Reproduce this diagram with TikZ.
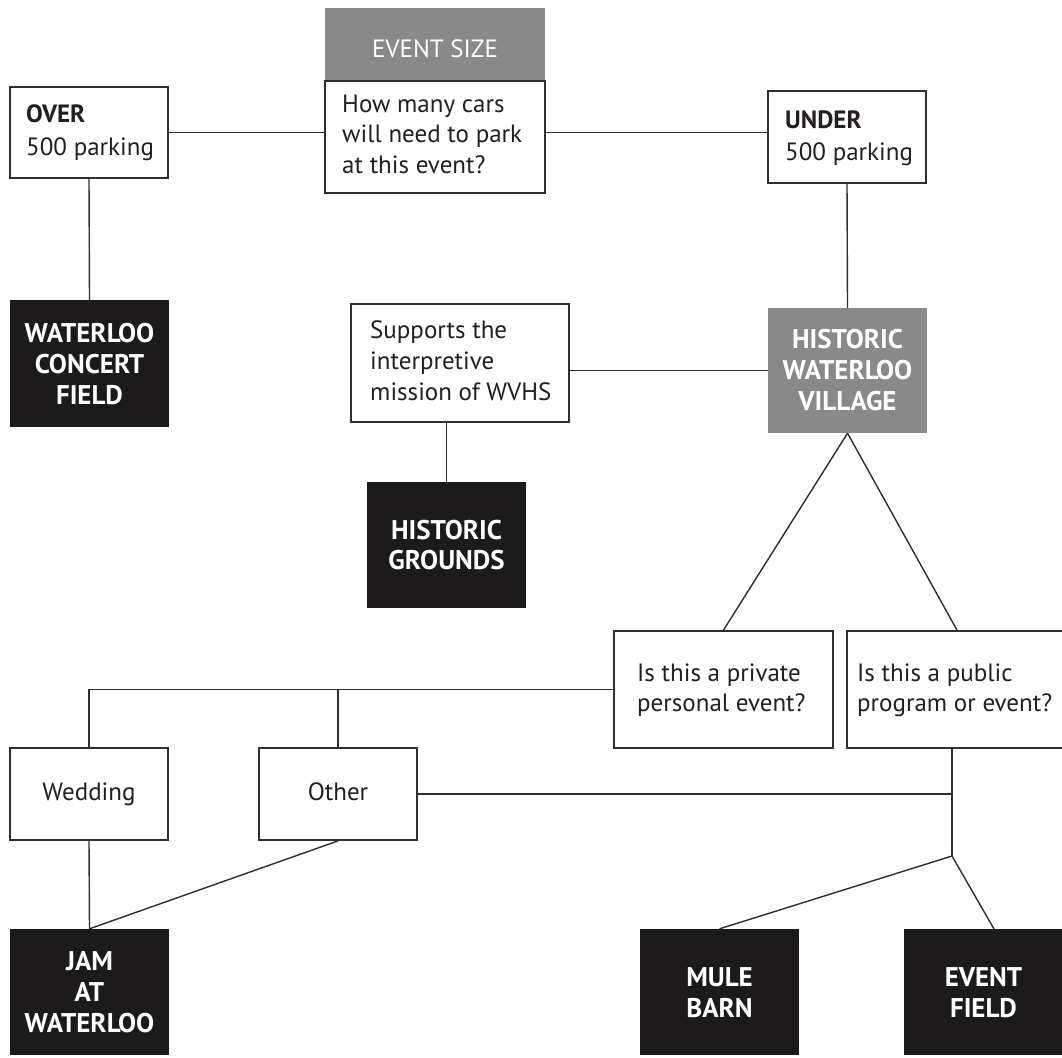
\documentclass[tikz,border=0pt]{standalone}
\usepackage{fontspec}
\setmainfont{PT Sans}
\usetikzlibrary{calc}
\definecolor{gfill}{HTML}{898989}
\definecolor{bfill}{HTML}{1C1A1B}
\definecolor{ln}{HTML}{2E2E2E}
\definecolor{tcol}{HTML}{231F20}
\begin{document}
\begin{tikzpicture}[x=1pt,y=-1pt,
 wbox/.style={draw=ln, line width=1.8pt, fill=white, rectangle, inner sep=0pt},
 bbox/.style={fill=bfill, rectangle, inner sep=0pt},
 gbox/.style={fill=gfill, rectangle, inner sep=0pt},
 conn/.style={draw=ln, line width=1.4pt},
 tx/.style={font=\fontsize{25}{31}\selectfont, inner sep=0pt, text=tcol},
 hx/.style={font=\fontsize{25}{31}\selectfont\bfseries, inner sep=0pt, text=tcol},
 gtx/.style={font=\fontsize{25}{31}\selectfont, inner sep=0pt, text=white},
 btx/.style={font=\fontsize{27}{31}\selectfont\bfseries, inner sep=0pt, text=white}]
\useasboundingbox (0,0) rectangle (1062,1057);
\fill[white] (0,0) rectangle (1062,1057);

% boxes
\node[wbox, minimum width=158, minimum height=91] (over) at (89,132.5) {};
\node[gbox, minimum width=220, minimum height=73] (evh) at (435,44.5) {};
\node[wbox, minimum width=220, minimum height=112] (evq) at (435,137) {};
\node[wbox, minimum width=158, minimum height=92] (under) at (847,137) {};
\node[bbox, minimum width=159, minimum height=127] (wcf) at (89.5,363.5) {};
\node[wbox, minimum width=218, minimum height=118] (sup) at (460,363) {};
\node[gbox, minimum width=159, minimum height=125] (hwv) at (847.5,370.5) {};
\node[bbox, minimum width=159, minimum height=126] (hg) at (446.5,545) {};
\node[wbox, minimum width=219, minimum height=117] (priv) at (723.5,689.5) {};
\node[wbox, minimum width=220, minimum height=117] (pub) at (957,689.5) {};
\node[wbox, minimum width=158, minimum height=92] (wed) at (89,794) {};
\node[wbox, minimum width=158, minimum height=92] (oth) at (338,794) {};
\node[bbox, minimum width=159, minimum height=126] (jam) at (89.5,992) {};
\node[bbox, minimum width=159, minimum height=126] (mule) at (719.5,992) {};
\node[bbox, minimum width=159, minimum height=126] (ef) at (983.5,992) {};

% texts
\node[hx, anchor=base west] (t-over1) at (26,122) {OVER};
\node[tx, anchor=base west] (t-over2) at (26,155) {500 parking};
\node[gtx, anchor=base] (t-evh) at (435,57) {EVENT SIZE};
\node[tx, anchor=base west] (t-ev1) at (342,112) {How many cars};
\node[tx, anchor=base west] (t-ev2) at (342,142) {will need to park};
\node[tx, anchor=base west] (t-ev3) at (342,173) {at this event?};
\node[hx, anchor=base west] (t-un1) at (785,128) {UNDER};
\node[tx, anchor=base west] (t-un2) at (785,160) {500 parking};
\node[btx, anchor=base] (t-wcf1) at (89.5,342) {WATERLOO};
\node[btx, anchor=base] (t-wcf2) at (89.5,373) {CONCERT};
\node[btx, anchor=base] (t-wcf3) at (89.5,404) {FIELD};
\node[tx, anchor=base west] (t-sup1) at (370,338) {Supports the};
\node[tx, anchor=base west] (t-sup2) at (370,369) {interpretive};
\node[tx, anchor=base west] (t-sup3) at (370,400) {mission of WVHS};
\node[btx, anchor=base] (t-hwv1) at (847.5,348) {HISTORIC};
\node[btx, anchor=base] (t-hwv2) at (847.5,379) {WATERLOO};
\node[btx, anchor=base] (t-hwv3) at (847.5,410) {VILLAGE};
\node[btx, anchor=base] (t-hg1) at (446.5,539) {HISTORIC};
\node[btx, anchor=base] (t-hg2) at (446.5,569) {GROUNDS};
\node[tx, anchor=base west] (t-pr1) at (637,681) {Is this a private};
\node[tx, anchor=base west] (t-pr2) at (637,711) {personal event?};
\node[tx, anchor=base west] (t-pu1) at (857,681) {Is this a public};
\node[tx, anchor=base west] (t-pu2) at (857,711) {program or event?};
\node[tx, anchor=base] (t-wed) at (89,800) {Wedding};
\node[tx, anchor=base] (t-oth) at (338,800) {Other};
\node[btx, anchor=base] (t-jam1) at (89.5,970.5) {JAM};
\node[btx, anchor=base] (t-jam2) at (89.5,1001.5) {AT};
\node[btx, anchor=base] (t-jam3) at (89.5,1032) {WATERLOO};
\node[btx, anchor=base] (t-mu1) at (719.5,986) {MULE};
\node[btx, anchor=base] (t-mu2) at (719.5,1017) {BARN};
\node[btx, anchor=base] (t-ef1) at (983.5,986) {EVENT};
\node[btx, anchor=base] (t-ef2) at (983.5,1017) {FIELD};

% connectors
\coordinate (J) at (952,856);
\coordinate (efin) at (994,929);
\draw[conn] (over.east) -- (over.east -| evq.west);
\draw[conn] (evq.east |- over.east) -- (under.west |- over.east);
\draw[conn] (over.south) -- (wcf.north);
\draw[conn] (under.south) -- (hwv.north);
\draw[conn] (hwv.west) -- (hwv.west -| sup.east);
\draw[conn] (hg.north) -- (hg.north |- sup.south);
\draw[conn] (hwv.south) -- (priv.north);
\draw[conn] (hwv.south) -- (pub.north);
\draw[conn] (priv.west) -| (wed.north);
\draw[conn] (oth.north) -- (oth.north |- priv.west);
\draw[conn] (wed.south) -- (jam.north);
\draw[conn] (oth.south) -- (jam.north);
\draw[conn] (J |- pub.south) -- (J);
\draw[conn] (oth.east) -- (oth.east -| J);
\draw[conn] (J) -- (mule.north);
\draw[conn] (J) -- (efin);
\end{tikzpicture}
\end{document}
